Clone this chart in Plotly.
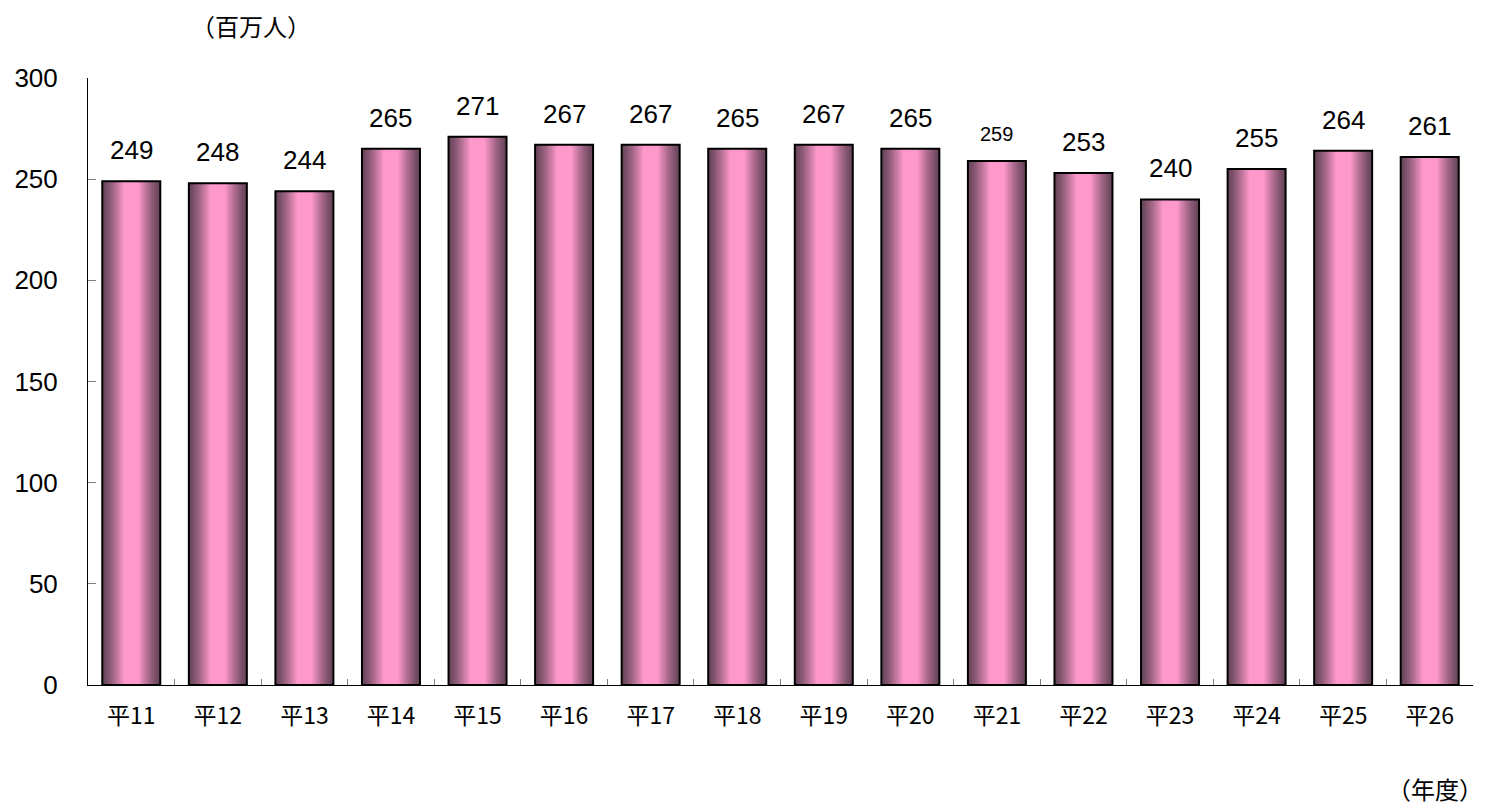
import plotly.graph_objects as go

years = ["平11", "平12", "平13", "平14", "平15", "平16", "平17", "平18",
         "平19", "平20", "平21", "平22", "平23", "平24", "平25", "平26"]
passengers = [249, 248, 244, 265, 271, 267, 267, 265,
              267, 265, 259, 253, 240, 255, 264, 261]
label_sizes = [26, 26, 26, 26, 26, 26, 26, 26, 26, 26, 20, 26, 26, 26, 26, 26]

BAR_W = 0.67
EDGE = (104, 70, 90)
PINK = (255, 153, 204)
N_LAYERS = 18
PLATEAU = 0.26  # fraction of width that is full pink

fig = go.Figure()
for k in range(N_LAYERS):
    frac = k / (N_LAYERS - 1)
    w = BAR_W * (1 - frac * (1 - PLATEAU))
    t = frac ** 1.25
    c = tuple(int(round(EDGE[i] + (PINK[i] - EDGE[i]) * t)) for i in range(3))
    fig.add_trace(go.Bar(
        x=years, y=passengers, width=w,
        marker=dict(color="rgb(%d,%d,%d)" % c, line=dict(width=0)),
        hoverinfo="skip", showlegend=False,
    ))
# outline
fig.add_trace(go.Bar(
    x=years, y=passengers, width=BAR_W,
    marker=dict(color="rgba(0,0,0,0)", line=dict(width=2, color="black")),
    showlegend=False,
))

for x, v, s in zip(years, passengers, label_sizes):
    fig.add_annotation(x=x, y=v, text=str(v), showarrow=False,
                       yanchor="bottom", yshift=14,
                       font=dict(size=s, color="black",
                                 family="Liberation Sans Narrow, Arial Narrow, Liberation Sans"))

fig.add_annotation(xref="paper", yref="paper", x=0.1177, y=1.087,
                   xanchor="center", yanchor="middle", showarrow=False,
                   text="（百万人）",
                   font=dict(size=24, color="black", family="Noto Sans CJK JP"))
fig.add_annotation(xref="paper", yref="paper", x=1.009, y=-0.170,
                   xanchor="right", yanchor="middle", showarrow=False,
                   text="（年度）",
                   font=dict(size=24, color="black", family="Noto Sans CJK JP"))

fig.update_layout(
    barmode="overlay",
    width=1485, height=797,
    margin=dict(l=80, r=20, t=70, b=120, autoexpand=False),
    plot_bgcolor="white", paper_bgcolor="white",
    xaxis=dict(
        type="category", showline=True, linecolor="black", linewidth=1,
        ticks="inside", tickson="boundaries", ticklen=6, tickcolor="#808080",
        tickfont=dict(size=23, color="black", family="Noto Sans CJK JP"),
        showgrid=False, ticklabelstandoff=10, automargin=False,
    ),
    yaxis=dict(
        range=[0, 300], tickvals=[0, 50, 100, 150, 200, 250, 300],
        showline=True, linecolor="black", linewidth=1,
        ticks="inside", ticklen=8, tickcolor="#808080",
        tickfont=dict(size=26, color="black", family="Liberation Sans, Arial"),
        showgrid=False, zeroline=False, ticklabelstandoff=24, automargin=False,
    ),
)

fig.write_html("out.html")
